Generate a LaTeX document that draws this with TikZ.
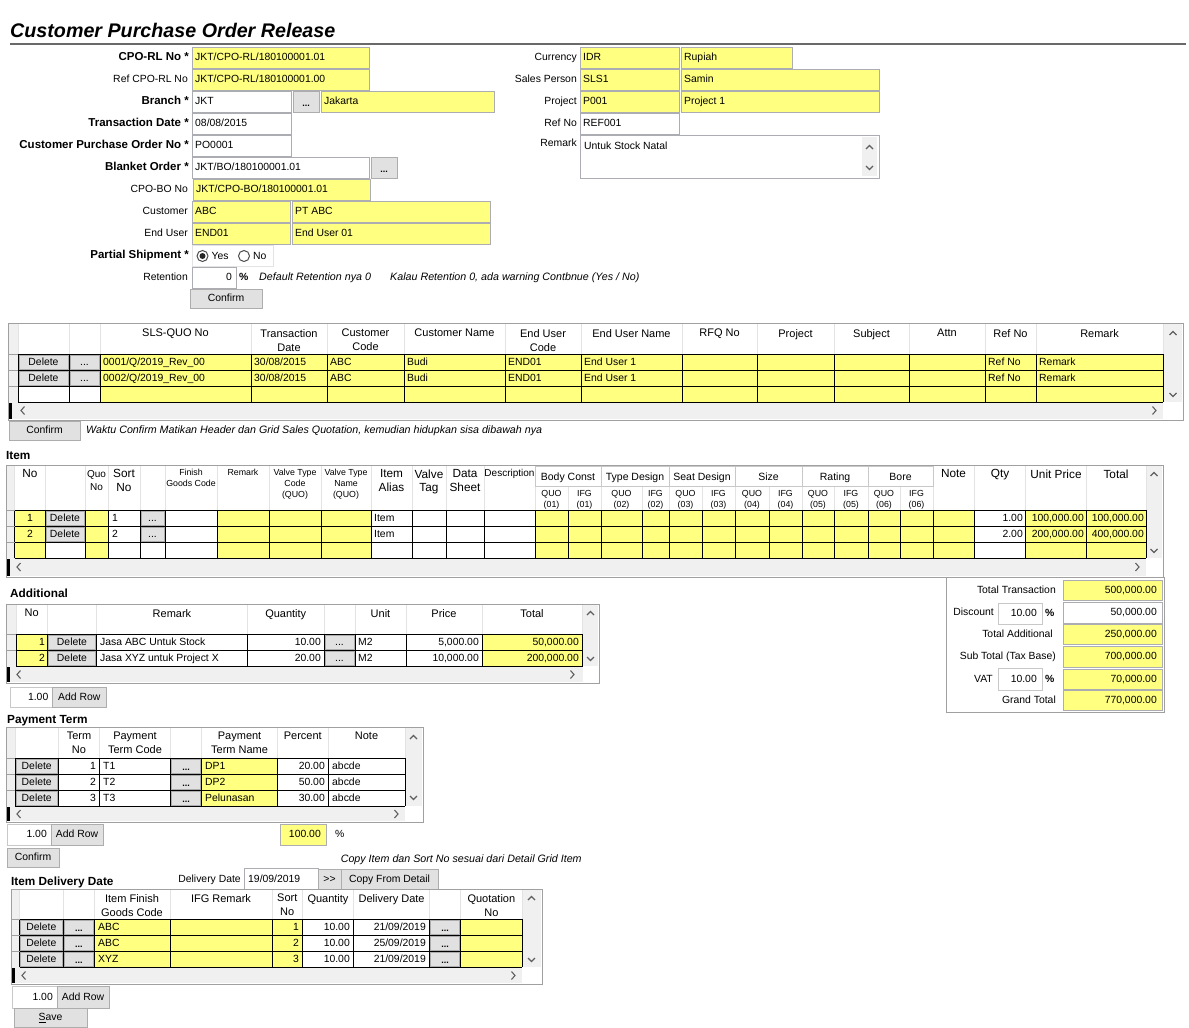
\documentclass[tikz,border=0pt]{standalone}
\usepackage{fontspec}
\setmainfont{Liberation Sans}
\usetikzlibrary{positioning, calc}

\definecolor{fyel}{HTML}{FFFF80}
\definecolor{btnc}{HTML}{E1E1E1}
\definecolor{btnb}{HTML}{ADADAD}
\definecolor{fbord}{HTML}{ABADB3}
\definecolor{framec}{HTML}{A0A0A0}
\definecolor{hsepc}{HTML}{E3E3E3}
\definecolor{sbarc}{HTML}{F0F0F0}
\definecolor{chevc}{HTML}{606060}
\definecolor{rulec}{HTML}{696969}
\definecolor{grpc}{HTML}{C8C8C8}

\begin{document}
\begin{tikzpicture}[x=1pt, y=-1pt]
	\tikzstyle{txt} = [inner sep=0pt, text height=7.4pt, text depth=2.1pt, yshift=-0.8pt, font=\fontsize{10.4}{12}\selectfont]
	\tikzstyle{ltxt} = [txt, anchor=west]
	\tikzstyle{rtxt} = [txt, anchor=east]
	\tikzstyle{ctxt} = [txt, anchor=center]
	\tikzstyle{dots} = [txt, anchor=center, font=\fontsize{9}{10}\selectfont\bfseries]
	\tikzstyle{blbl} = [txt, anchor=east, font=\fontsize{11.5}{13}\selectfont\bfseries]
	\tikzstyle{btitle} = [txt, anchor=west, font=\fontsize{11.8}{13}\selectfont\bfseries]
	\tikzstyle{note} = [txt, anchor=west, font=\fontsize{10.7}{13}\selectfont\itshape]
	\tikzstyle{hdr} = [inner sep=0pt, anchor=north, align=center, font=\fontsize{11}{14}\selectfont]
	\tikzstyle{field} = [draw=fbord, line width=1pt]
	\tikzstyle{button} = [draw=btnb, fill=btnc, line width=1pt]
	\tikzstyle{frame} = [draw=framec, line width=1pt]
	\tikzstyle{gridline} = [black, line width=1pt]
	\tikzstyle{hsep} = [hsepc, line width=1pt]
	\tikzstyle{rowsep} = [framec, line width=1pt]
	\tikzstyle{chev} = [chevc, line width=1.1pt]

	\fill[white] (0,0) rectangle (1189,1028);
	\useasboundingbox (0,0) rectangle (1189,1028);

	% Title
	\node[anchor=base west, inner sep=0pt, font=\fontsize{19.7}{22}\selectfont\bfseries\itshape] (title) at (10,37) {Customer Purchase Order Release};
	\draw[rulec, line width=2pt] (10,43.5) -- (1186,43.5);

	% Header labels
	\foreach \y/\tx [count=\i] in {57.5/CPO-RL No *, 101.5/Branch *, 123.5/Transaction Date *, 145.5/Customer Purchase Order No *, 167.5/Blanket Order *, 255.5/Partial Shipment *}
		\node[blbl] (hlb\i) at (189,\y) {\tx};
	\foreach \y/\tx [count=\i] in {79.5/Ref CPO-RL No, 189.5/CPO-BO No, 211.5/Customer, 233.5/End User, 277.5/Retention}
		\node[rtxt] (hl\i) at (188,\y) {\tx};
	\foreach \y/\tx [count=\i] in {57.5/Currency, 79.5/Sales Person, 101.5/Project, 123.5/Ref No, 143/Remark}
		\node[rtxt] (hr\i) at (577,\y) {\tx};

	% Header fields
	\foreach \xa/\xb/\ya/\cl/\tx [count=\i] in {192/369/47/fyel/{JKT/CPO-RL/180100001.01}, 192/369/69/fyel/{JKT/CPO-RL/180100001.00}, 192/291/91/white/JKT, 321/494/91/fyel/Jakarta, 192/291/113/white/{08/08/2015}, 192/291/135/white/PO0001, 192/369/157/white/{JKT/BO/180100001.01}, 193/370/179/fyel/{JKT/CPO-BO/180100001.01}, 192/290/201/fyel/ABC, 292/490/201/fyel/PT ABC, 192/290/223/fyel/END01, 292/490/223/fyel/End User 01, 580/679/47/fyel/IDR, 681/792/47/fyel/Rupiah, 580/679/69/fyel/SLS1, 681/879/69/fyel/Samin, 580/679/91/fyel/P001, 681/879/91/fyel/Project 1, 580/679/113/white/REF001}
	{
		\draw[field, fill=\cl] (\xa,\ya) rectangle (\xb,\ya+21);
		\node[ltxt] (fd\i) at (\xa+3,\ya+10.5) {\tx};
	}
	\foreach \xa/\xb/\ya [count=\i] in {293/319/91, 371/397/157} {
		\draw[button] (\xa,\ya) rectangle (\xb,\ya+21);
		\node[dots] (hb\i) at ({(\xa+\xb)/2},\ya+12) {...};
	}

	% Remark
	\draw[field, fill=white] (580,135) rectangle (879,178);
	\fill[sbarc] (862,137) rectangle (877,176);
	\node[ltxt] (rmk) at (584,146) {Untuk Stock Natal};

	% Partial shipment and retention
	\draw[hsepc, line width=1pt] (192,245) rectangle (273,266);
	\node[circle, draw=black!70, line width=1pt, fill=white, minimum size=11pt, inner sep=0pt] (ryes) at (202.5,256) {};
	\fill[black!85] (ryes) circle (3pt);
	\node[ltxt, right=3pt of ryes] (tyes) {Yes};
	\node[circle, draw=black!70, line width=1pt, fill=white, minimum size=11pt, inner sep=0pt] (rno) at (244,256) {};
	\node[ltxt, right=3pt of rno] (tno) {No};
	\draw[field, fill=white] (192,267) rectangle (236,288);
	\node[rtxt] (ret) at (232,277.5) {0};
	\node[txt, anchor=west, font=\fontsize{10.4}{12}\selectfont\bfseries] (retp) at (239,277.5) {\%};
	\node[note] (n1) at (259,277.5) {Default Retention nya 0};
	\node[note] (n2) at (390,277.5) {Kalau Retention 0, ada warning Contbnue (Yes / No)};
	\draw[button] (190,289) rectangle (262,308);
	\node[ctxt] (cf1) at (226,298.5) {Confirm};

	% Sales quotation grid
	\draw[frame, fill=white] (8,323) rectangle (1183,420);
	\fill[sbarc] (9,324) rectangle (18,402);
	\fill[sbarc] (9,402) rectangle (1163,419);
	\fill[black] (9,403) rectangle (12,419);
	\fill[sbarc] (1163,324) rectangle (1182,402);
	\fill[fyel] (100,354) rectangle (1163,402);
	\foreach \x in {18,69,100,251,327,404,505,581,682,757,834,909,985,1036,1163} {
		\draw[hsep] (\x,324) -- (\x,354);
		\draw[gridline] (\x,354) -- (\x,402);
	}
	\foreach \y in {354,370,386,402} \draw[gridline] (18,\y) -- (1163,\y);
	\foreach \y in {354,370,386} \draw[rowsep] (9,\y) -- (18,\y);
	\foreach \x/\tx [count=\i] in {175.5/SLS-QUO No, 289/Transaction\\Date, 365.5/Customer\\Code, 454.5/Customer Name, 543/End User\\Code, 631.5/End User Name, 719.5/RFQ No, 795.5/Project, 871.5/Subject, 947/Attn, 1010.5/Ref No, 1099.5/Remark}
		\node[hdr] (qh\i) at (\x,329) {\tx};
	\foreach \y/\q [count=\i] in {354/0001, 370/0002} {
		\draw[button] (19,\y+1) rectangle (68,\y+15);
		\draw[button] (70,\y+1) rectangle (99,\y+15);
		\node[ctxt] (qd\i) at (43.5,\y+8) {Delete};
		\node[ctxt] (qb\i) at (84.5,\y+8) {...};
		\node[ltxt] (qn\i) at (103,\y+8) {\q/Q/2019\_Rev\_00};
		\node[ltxt] (qt\i) at (254,\y+8) {30/08/2015};
		\node[ltxt] (qc\i) at (330,\y+8) {ABC};
		\node[ltxt] (qm\i) at (407,\y+8) {Budi};
		\node[ltxt] (qe\i) at (508,\y+8) {END01};
		\node[ltxt] (qu\i) at (584,\y+8) {End User 1};
		\node[ltxt] (qr\i) at (988,\y+8) {Ref No};
		\node[ltxt] (qk\i) at (1039,\y+8) {Remark};
	}
	\draw[button] (9,421) rectangle (80,440);
	\node[ctxt] (cf2) at (44.5,430.5) {Confirm};
	\node[note] (n3) at (86,430.5) {Waktu Confirm Matikan Header dan Grid Sales Quotation, kemudian hidupkan sisa dibawah nya};

	% Item grid
	\node[btitle] (item) at (6,456) {Item};
	\draw[frame, fill=white] (6,465) rectangle (1163,577);
	\fill[sbarc] (7,466) rectangle (14.5,558);
	\fill[sbarc] (7,558) rectangle (1146,576);
	\fill[black] (7,559) rectangle (10,576);
	\fill[sbarc] (1146,466) rectangle (1162,558);
	\foreach \x in {14.5,45,85,108,140,165,217,269,321,371,412,446,484,535,933,974,1025.5,1086.5,1146}
		\draw[hsep] (\x,466) -- (\x,510);
	\foreach \x in {568,601,642,669,702,735,769,802,834,868,900}
		\draw[hsep] (\x,486) -- (\x,510);
	\foreach \xa/\xb/\tx [count=\i] in {535/601/Body Const, 601/669/Type Design, 669/735/Seat Design, 735/802/Size, 802/868/Rating, 868/933/Bore} {
		\draw[grpc, line width=1pt] (\xa,466) rectangle (\xb,486);
		\node[ctxt, font=\fontsize{10.5}{12}\selectfont] (ig\i) at ({(\xa+\xb)/2},477) {\tx};
	}
	\foreach \x/\tx [count=\i] in {551.5/QUO\\(01), 584.5/IFG\\(01), 621.5/QUO\\(02), 655.5/IFG\\(02), 685.5/QUO\\(03), 718.5/IFG\\(03), 752/QUO\\(04), 785.5/IFG\\(04), 818/QUO\\(05), 851/IFG\\(05), 884/QUO\\(06), 916.5/IFG\\(06)}
		\node[hdr, font=\fontsize{8.8}{11.3}\selectfont] (isub\i) at (\x,490) {\tx};
	\foreach \x/\tx [count=\i] in {30/No, 124/Sort\\No, 391.5/Item\\Alias, 429/Valve\\Tag, 465/Data\\Sheet, 953.5/Note, 1000/Qty, 1056/Unit Price, 1116/Total}
		\node[hdr, font=\fontsize{11.8}{13.5}\selectfont] (ih\i) at (\x,469.5) {\tx};
	\foreach \x/\tx [count=\i] in {191/Finish\\Goods Code, 243/Remark, 295/Valve Type\\Code\\(QUO), 346/Valve Type\\Name\\(QUO)}
		\node[hdr, font=\fontsize{8.8}{11}\selectfont] (is\i) at (\x,468.5) {\tx};
	\node[hdr, font=\fontsize{10}{13}\selectfont] (iq) at (96.5,470) {Quo\\No};
	\node[hdr, font=\fontsize{10}{12}\selectfont] (idesc) at (509.5,469.5) {Description};
	\foreach \xa/\xb in {14.5/45, 85/108, 217/371, 535/974, 1025.5/1146}
		\fill[fyel] (\xa,510) rectangle (\xb,558);
	\foreach \x in {14.5,45,85,108,140,165,217,269,321,371,412,446,484,535,568,601,642,669,702,735,769,802,834,868,900,933,974,1025.5,1086.5,1146}
		\draw[gridline] (\x,510) -- (\x,558);
	\foreach \y in {510,526,542,558} \draw[gridline] (14.5,\y) -- (1146,\y);
	\foreach \y in {510,526,542} \draw[rowsep] (7,\y) -- (14.5,\y);
	\foreach \y/\n/\q/\up/\tot [count=\i] in {510/1/1.00/{100,000.00}/{100,000.00}, 526/2/2.00/{200,000.00}/{400,000.00}} {
		\draw[button] (46,\y+1) rectangle (84,\y+15);
		\draw[button] (141,\y+1) rectangle (164,\y+15);
		\node[ctxt] (in\i) at (30,\y+8) {\n};
		\node[ctxt] (idl\i) at (65,\y+8) {Delete};
		\node[ltxt] (isn\i) at (112,\y+8) {\n};
		\node[ctxt] (ib\i) at (152.5,\y+8) {...};
		\node[ltxt] (ia\i) at (374,\y+8) {Item};
		\node[rtxt] (iy\i) at (1023,\y+8) {\q};
		\node[rtxt] (ip\i) at (1084,\y+8) {\up};
		\node[rtxt] (it\i) at (1144,\y+8) {\tot};
	}

	% Totals
	\draw[frame] (946.7,577) rectangle (1164,712);
	\foreach \y/\x/\tx [count=\i] in {590/1056/Total Transaction, 612.5/994/Discount, 634/1053/Total Additional, 656.5/1056/Sub Total (Tax Base), 679/993/VAT, 700/1056/Grand Total}
		\node[rtxt] (tl\i) at (\x,\y) {\tx};
	\foreach \ya/\yb/\cl/\v [count=\i] in {580/600/fyel/{500,000.00}, 602/623/white/{50,000.00}, 624/644/fyel/{250,000.00}, 646/667/fyel/{700,000.00}, 669/689/fyel/{70,000.00}, 690/710/fyel/{770,000.00}} {
		\draw[field, fill=\cl] (1063,\ya) rectangle (1162,\yb);
		\node[rtxt] (tv\i) at (1157,{(\ya+\yb)/2}) {\v};
	}
	\foreach \ya/\yb [count=\i] in {603/624, 668/690} {
		\draw[grpc, line width=1pt, fill=white] (998,\ya) rectangle (1042,\yb);
		\node[rtxt] (ti\i) at (1037,{(\ya+\yb)/2}) {10.00};
		\node[txt, anchor=west, font=\fontsize{10.4}{12}\selectfont\bfseries] (tp\i) at (1045,{(\ya+\yb)/2}) {\%};
	}

	% Additional grid
	\node[btitle] (addl) at (10,594) {Additional};
	\draw[frame, fill=white] (6,604) rectangle (599,683);
	\fill[sbarc] (7,605) rectangle (16,666);
	\fill[sbarc] (7,666) rectangle (582.5,682);
	\fill[black] (7,667) rectangle (10,682);
	\fill[sbarc] (582.5,605) rectangle (598,666);
	\foreach \xa/\xb in {16/47.5, 482/582.5} \fill[fyel] (\xa,634) rectangle (\xb,666);
	\foreach \x in {16,47.5,96.5,247.5,324,355,406,482,582.5} {
		\draw[hsep] (\x,605) -- (\x,634);
		\draw[gridline] (\x,634) -- (\x,666);
	}
	\foreach \y in {634,650,666} \draw[gridline] (16,\y) -- (582.5,\y);
	\foreach \y in {634,650} \draw[rowsep] (7,\y) -- (16,\y);
	\foreach \x/\tx [count=\i] in {31.75/No, 172/Remark, 285.75/Quantity, 380.5/Unit, 444/Price, 532/Total}
		\node[hdr] (ah\i) at (\x,609) {\tx};
	\foreach \y/\n/\rk/\q/\pr/\tot [count=\i] in {634/1/Jasa ABC Untuk Stock/10.00/{5,000.00}/{50,000.00}, 650/2/Jasa XYZ untuk Project X/20.00/{10,000.00}/{200,000.00}} {
		\draw[button] (48.5,\y+1) rectangle (95.5,\y+15);
		\draw[button] (325,\y+1) rectangle (354,\y+15);
		\node[rtxt] (an\i) at (45,\y+8) {\n};
		\node[ctxt] (ad\i) at (72,\y+8) {Delete};
		\node[ltxt] (ar\i) at (100,\y+8) {\rk};
		\node[rtxt] (aq\i) at (321,\y+8) {\q};
		\node[ctxt] (ab\i) at (339.5,\y+8) {...};
		\node[ltxt] (au\i) at (358,\y+8) {M2};
		\node[rtxt] (ap\i) at (479,\y+8) {\pr};
		\node[rtxt] (at\i) at (579,\y+8) {\tot};
	}
	\draw[grpc, line width=1pt, fill=white] (10,687) rectangle (52.5,707);
	\node[rtxt] (arn) at (48.5,697) {1.00};
	\draw[button] (52.5,687) rectangle (106,707);
	\node[ctxt] (arb) at (79.25,697) {Add Row};

	% Payment term grid
	\node[btitle] (pay) at (7,720) {Payment Term};
	\draw[frame, fill=white] (6,727) rectangle (423,822);
	\fill[sbarc] (7,728) rectangle (15,806);
	\fill[sbarc] (7,806) rectangle (405,821);
	\fill[black] (7,807) rectangle (10,821);
	\fill[sbarc] (405,728) rectangle (422,806);
	\fill[fyel] (201.7,758) rectangle (277.5,806);
	\foreach \x in {15,58.5,99.5,170.7,201.7,277.5,328,405} {
		\draw[hsep] (\x,728) -- (\x,758);
		\draw[gridline] (\x,758) -- (\x,806);
	}
	\foreach \y in {758,774,790,806} \draw[gridline] (15,\y) -- (405,\y);
	\foreach \y in {758,774,790} \draw[rowsep] (7,\y) -- (15,\y);
	\foreach \x/\tx [count=\i] in {79/Term\\No, 135/Payment\\Term Code, 239.6/Payment\\Term Name, 302.75/Percent, 366.5/Note}
		\node[hdr] (ph\i) at (\x,732) {\tx};
	\foreach \y/\n/\nm/\pc [count=\i] in {758/1/DP1/20.00, 774/2/DP2/50.00, 790/3/Pelunasan/30.00} {
		\draw[button] (16,\y+1) rectangle (57.5,\y+15);
		\draw[button] (171.7,\y+1) rectangle (200.7,\y+15);
		\node[ctxt] (pd\i) at (36.75,\y+8) {Delete};
		\node[rtxt] (pn\i) at (96,\y+8) {\n};
		\node[ltxt] (pc\i) at (103,\y+8) {T\n};
		\node[dots] (pb\i) at (186.2,\y+9) {...};
		\node[ltxt] (pm\i) at (205,\y+8) {\nm};
		\node[rtxt] (pp\i) at (325,\y+8) {\pc};
		\node[ltxt] (pt\i) at (332,\y+8) {abcde};
	}
	\draw[grpc, line width=1pt, fill=white] (7,824) rectangle (51,845);
	\node[rtxt] (prn) at (47,834.5) {1.00};
	\draw[button] (51,824) rectangle (103,845);
	\node[ctxt] (prb) at (77,834.5) {Add Row};
	\draw[field, fill=fyel] (280,824) rectangle (326,845);
	\node[rtxt] (ptot) at (321,834.5) {100.00};
	\node[ltxt] (ppct) at (335,834.5) {\%};
	\draw[button] (7,848) rectangle (59,867);
	\node[ctxt] (cf3) at (33,857.5) {Confirm};
	\node[note] (n4) at (340.6,859) {Copy Item dan Sort No sesuai dari Detail Grid Item};

	% Item delivery date grid
	\node[btitle] (deliv) at (11,882) {Item Delivery Date};
	\node[rtxt] (ddl) at (241,879) {Delivery Date};
	\draw[field, fill=white] (244,868) rectangle (318,889);
	\node[ltxt] (ddv) at (248,879) {19/09/2019};
	\draw[button] (318,869) rectangle (341,889);
	\node[ctxt] (ddb) at (329.5,879) {{>}{>}};
	\draw[button] (341,869) rectangle (438,889);
	\node[ctxt] (ddc) at (389.5,879) {Copy From Detail};
	\draw[frame, fill=white] (11,889) rectangle (542,984);
	\fill[sbarc] (12,890) rectangle (19.6,967);
	\fill[sbarc] (12,967) rectangle (522,983);
	\fill[black] (12,968) rectangle (15,983);
	\fill[sbarc] (522,890) rectangle (541,967);
	\foreach \xa/\xb in {94.6/302.5, 460.7/522} \fill[fyel] (\xa,919) rectangle (\xb,967);
	\foreach \x in {19.6,63,94.6,170,272,302.5,353.6,429.6,460.7,522} {
		\draw[hsep] (\x,890) -- (\x,919);
		\draw[gridline] (\x,919) -- (\x,967);
	}
	\foreach \y in {919,935,951,967} \draw[gridline] (19.6,\y) -- (522,\y);
	\foreach \y in {919,935,951} \draw[rowsep] (12,\y) -- (19.6,\y);
	\foreach \x/\tx [count=\i] in {132/Item Finish\\Goods Code, 221/IFG Remark, 287.25/Sort\\No, 328/Quantity, 391.6/Delivery Date, 491.35/Quotation\\No}
		\node[hdr] (dh\i) at (\x,894) {\tx};
	\foreach \y/\cd/\n/\dt [count=\i] in {919/ABC/1/{21/09/2019}, 935/ABC/2/{25/09/2019}, 951/XYZ/3/{21/09/2019}} {
		\draw[button] (20.6,\y+1) rectangle (62,\y+15);
		\draw[button] (64,\y+1) rectangle (93.6,\y+15);
		\draw[button] (430.6,\y+1) rectangle (459.7,\y+15);
		\node[ctxt] (dd\i) at (41.3,\y+8) {Delete};
		\node[dots] (db\i) at (78.8,\y+9) {...};
		\node[ltxt] (dc\i) at (98,\y+8) {\cd};
		\node[rtxt] (dn\i) at (299,\y+8) {\n};
		\node[rtxt] (dq\i) at (350,\y+8) {10.00};
		\node[rtxt] (dt\i) at (426,\y+8) {\dt};
		\node[dots] (de\i) at (445.15,\y+9) {...};
	}
	\draw[grpc, line width=1pt, fill=white] (12.5,986) rectangle (57,1008);
	\node[rtxt] (drn) at (53,997) {1.00};
	\draw[button] (57,986) rectangle (109,1008);
	\node[ctxt] (drb) at (83,997) {Add Row};
	\draw[button] (14,1008) rectangle (87,1027);
	\node[ctxt] (save) at (50.5,1017.5) {\underline{S}ave};

	% Scroll arrows
	\foreach \x/\y in {22/410.5, 18/567, 18/674.5, 18/814, 23/975.5}
		\draw[chev] (\x+2.5,\y-4) -- (\x-1,\y) -- (\x+2.5,\y+4);
	\foreach \x/\y in {1155/410.5, 1138/567, 573/674.5, 397/814, 514/975.5}
		\draw[chev] (\x-2.5,\y-4) -- (\x+1,\y) -- (\x-2.5,\y+4);
	\foreach \x/\y in {869.5/147, 1173/333, 1154/474, 590.5/613, 413.5/737, 531.5/898}
		\draw[chev] (\x-3.5,\y+2) -- (\x,\y-1.5) -- (\x+3.5,\y+2);
	\foreach \x/\y in {869.5/168, 1173/395, 1154/551, 590.5/659, 413.5/798, 531.5/960}
		\draw[chev] (\x-3.5,\y-2) -- (\x,\y+1.5) -- (\x+3.5,\y-2);
\end{tikzpicture}
\end{document}
